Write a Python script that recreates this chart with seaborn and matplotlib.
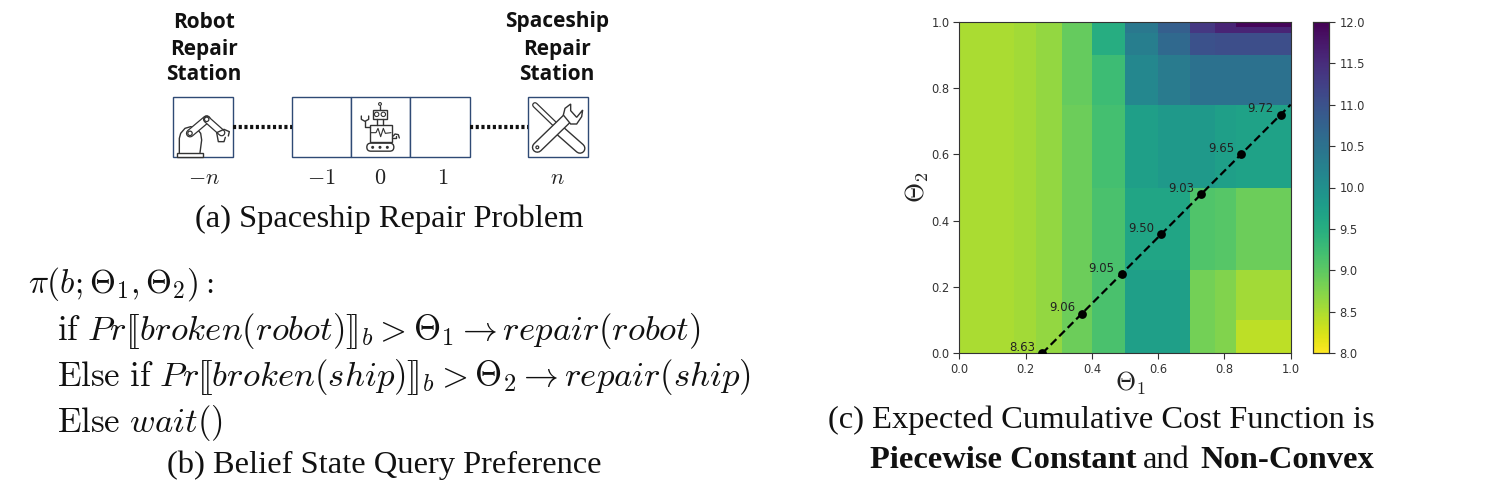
import numpy as np
import pandas as pd
import matplotlib
matplotlib.use("Agg")
import matplotlib.pyplot as plt
from matplotlib.patches import Rectangle, Circle, FancyBboxPatch, Polygon
import seaborn as sns

W, H = 1495, 492

# ---- data -------------------------------------------------------------
theta1_edges = [0, .165, .23, .31, .40, .50, .60, .695, .77, .835, 1.0]
theta2_edges = [0, .10, .25, .50, .75, .90, .965, .985, 1.0]
# rows go bottom to top, columns left to right
cost_r0 = [8.50, 8.55, 8.65, 8.90, 9.15, 9.75, 9.75, 8.85, 8.75, 8.40]
cost_r1 = [8.50, 8.55, 8.65, 8.90, 9.15, 9.75, 9.75, 8.85, 8.75, 8.55]
cost_r2 = [8.50, 8.55, 8.65, 8.90, 9.15, 9.65, 9.65, 9.10, 9.05, 8.90]
cost_r3 = [8.50, 8.55, 8.65, 8.90, 9.20, 9.75, 9.85, 9.85, 9.75, 9.70]
cost_r4 = [8.50, 8.55, 8.65, 8.95, 9.25, 10.15, 10.35, 10.50, 10.50, 10.50]
cost_r5 = [8.50, 8.55, 8.65, 8.95, 9.50, 10.30, 10.65, 11.00, 11.05, 11.05]
cost_r6 = [8.50, 8.55, 8.65, 8.95, 9.50, 10.40, 10.80, 11.35, 11.60, 11.60]
cost_r7 = [8.50, 8.55, 8.65, 8.95, 9.50, 10.40, 10.80, 11.35, 11.60, 11.95]

point_theta1 = [.25, .37, .49, .61, .73, .85, .97]
point_theta2 = [0, .12, .24, .36, .48, .60, .72]
point_labels = ["8.63", "9.06", "9.05", "9.50", "9.03", "9.65", "9.72"]
line_theta1 = [.25, 1.0]
line_theta2 = [0, .75]
ticks = [0.0, 0.2, 0.4, 0.6, 0.8, 1.0]
cbar_ticks = [8.0, 8.5, 9.0, 9.5, 10.0, 10.5, 11.0, 11.5, 12.0]
position_labels = [(204, r"$-n$"), (321, r"$-1$"), (380, r"$0$"), (443, r"$1$"), (557, r"$n$")]

# ---- setup ------------------------------------------------------------
sns.set_theme(style="white")
plt.rcParams["font.family"] = ["DejaVu Sans"]
plt.rcParams["mathtext.fontset"] = "cm"
fig = plt.figure(figsize=(W / 100, H / 100), dpi=100)
SERIF = "Liberation Serif"
INK = "#2f4a75"
CAP = 23.4


def rect(x0, y0, x1, y1):
    return [x0 / W, 1 - y1 / H, (x1 - x0) / W, (y1 - y0) / H]


# canvas in pixel units for the drawn diagram and text
cv = fig.add_axes([0, 0, 1, 1])
cv.set_xlim(0, W)
cv.set_ylim(H, 0)
cv.axis("off")

# ---- (a) diagram ------------------------------------------------------
for x0, x1 in [(173.3, 232.7), (292.3, 351), (351, 410.3), (410.3, 469.7), (528.3, 587.7)]:
    cv.add_patch(Rectangle((x0, 97.3), x1 - x0, 59.7, fc="white", ec=INK, lw=1.0))
for x0, x1 in [(233, 292), (470, 528)]:
    cv.plot([x0, x1], [126.7, 126.7], color="#111111", lw=3, ls=(0, (0.75, 0.62)), solid_capstyle="butt")

IC = "#333333"


def zx(X):
    return 150 + np.asarray(X) / 3


def zy(Y):
    return np.asarray(Y) / 3


def stroke(X, Y, lw=1.0, color=IC):
    cv.plot(zx(X), zy(Y), color=color, lw=lw, solid_capstyle="round", solid_joinstyle="round")


def hollow(X, Y, outer=4.6, inner=2.6):
    cv.plot(zx(X), zy(Y), color=IC, lw=outer, solid_capstyle="round")
    cv.plot(zx(X), zy(Y), color="white", lw=inner, solid_capstyle="round")


def ring(X, Y, r, lw=0.9):
    cv.add_patch(Circle((zx(X), zy(Y)), r, fc="white", ec=IC, lw=lw, zorder=4))


# robot arm
cv.add_patch(Rectangle((176.7, 152.7), 26, 4, fc="white", ec=IC, lw=1.0))
stroke([88, 88, 92, 105, 122, 140, 152, 155, 150], [458, 415, 400, 385, 380, 385, 400, 420, 458])
hollow([120, 170], [400, 358], 6.0, 4.2)
hollow([170, 215], [358, 398], 5.4, 3.6)
ring(120, 400, 2.2)
ring(170, 358, 2.2)
stroke([200, 222, 238, 235], [398, 388, 395, 408])
stroke([200, 205, 222, 226], [398, 425, 425, 412])

# robot
cv.add_patch(Rectangle((zx(668), zy(330)), 44 / 3, 28 / 3, fc="white", ec=IC, lw=1.0))
ring(680, 343, 2.2, 0.8)
ring(700, 343, 2.2, 0.8)
ring(690, 312, 1.4, 0.8)
stroke([690, 690], [318, 330])
stroke([680, 680], [358, 375])
stroke([700, 700], [358, 375])
cv.add_patch(Rectangle((zx(660), zy(375)), 65 / 3, 50 / 3, fc="white", ec=IC, lw=1.0))
stroke([662, 678, 684, 692, 700, 706, 723], [398, 398, 385, 410, 385, 400, 398], 0.8)
cv.add_patch(FancyBboxPatch((zx(655), zy(434)), 72 / 3, 15 / 3, boxstyle="round,pad=1.5,rounding_size=4", fc="white", ec=IC, lw=1.0))
for X in [668, 690, 712]:
    cv.add_patch(Circle((zx(X), zy(442)), 0.8, color=IC))
stroke([660, 645, 645], [382, 382, 362])
stroke([634, 634, 645, 656, 656], [348, 358, 364, 358, 348])
stroke([725, 738, 738], [415, 415, 408])
stroke([730, 735, 745, 748], [408, 402, 404, 414])

# tools
hollow([1222, 1290], [385, 445], 8.0, 6.0)
hollow([1155, 1212], [315, 370], 4.2, 2.4)
hollow([1162, 1255], [442, 352], 8.0, 6.0)
cv.add_patch(Polygon(np.c_[zx([1240, 1245, 1262, 1262, 1280, 1298, 1295, 1280, 1262]),
                           zy([345, 325, 312, 332, 352, 330, 350, 372, 372])], fc="white", ec=IC, lw=1.0, zorder=3))
ring(1162, 442, 1.4)

for cx, lines in [(204, ["Robot", "Repair", "Station"]), (557, ["Spaceship", "Repair", "Station"])]:
    for yy, s in zip([22, 49, 75], lines):
        cv.text(cx, yy, s, ha="center", va="center", fontsize=15, fontweight="bold", family="Open Sans", color="#111111")
for x, s in position_labels:
    cv.text(x, 178, s, ha="center", va="center", fontsize=16, color="#222222")

cv.text(389, 219, "(a) Spaceship Repair Problem", ha="center", va="center", fontsize=CAP, family=SERIF, color="#111111")

# ---- (b) formula ------------------------------------------------------
fs = 25
cv.text(28, 293, r"$\pi(b;\Theta_1,\Theta_2):$", fontsize=24, color="#111111")
cv.text(57, 340, r"$\mathrm{if}\ Pr[\![broken(robot)]\!]_b>\Theta_1\rightarrow repair(robot)$", fontsize=fs, color="#111111")
cv.text(57, 386, r"$\mathrm{Else\ if}\ Pr[\![broken(ship)]\!]_b>\Theta_2\rightarrow repair(ship)$", fontsize=fs, color="#111111")
cv.text(57, 432, r"$\mathrm{Else}\ wait()$", fontsize=fs, color="#111111")
cv.text(384, 465, "(b) Belief State Query Preference", ha="center", va="center", fontsize=CAP, family=SERIF, color="#111111")

# ---- (c) heatmap ------------------------------------------------------
N = 200
col_rep = np.round(np.diff(theta1_edges) * N).astype(int)
row_rep = np.round(np.diff(theta2_edges) * N).astype(int)
cost = np.array([cost_r0, cost_r1, cost_r2, cost_r3, cost_r4, cost_r5, cost_r6, cost_r7])
grid = np.repeat(np.repeat(cost, row_rep, axis=0), col_rep, axis=1)

ax = fig.add_axes(rect(959.4, 21.7, 1290.7, 353.3))
cax = fig.add_axes(rect(1312.7, 21.7, 1329.3, 353.3))
sns.heatmap(pd.DataFrame(grid), ax=ax, cbar_ax=cax, cmap="viridis_r", vmin=8, vmax=12,
            xticklabels=False, yticklabels=False, rasterized=True)
ax.invert_yaxis()
ax.set_xlabel("")
ax.set_ylabel("")

TC = "#333333"
cax.set_yticks(cbar_ticks)
cax.set_yticklabels([f"{t:.1f}" for t in cbar_ticks])
cax.tick_params(labelsize=8.3, colors=TC, length=4, width=0.8, right=True)
for s in cax.spines.values():
    s.set_visible(True)
    s.set_color(TC)
    s.set_linewidth(0.8)

top = fig.add_axes(rect(959.4, 21.7, 1290.7, 353.3), facecolor="none")
top.set_xlim(0, 1)
top.set_ylim(0, 1)
sns.lineplot(x=line_theta1, y=line_theta2, ax=top, color="black", lw=1.6, linestyle=(0, (3.6, 1.8)), errorbar=None)
sns.scatterplot(x=point_theta1, y=point_theta2, ax=top, color="black", s=40, linewidth=0, zorder=5)
for x, y, s in zip(point_theta1, point_theta2, point_labels):
    top.annotate(s, (x, y), xytext=(-14.5, 4), textcoords="offset points", ha="center", va="center",
                 fontsize=8.5, color="#222222", zorder=6)
top.set_xticks(ticks)
top.set_yticks(ticks)
top.set_xticklabels([f"{t:.1f}" for t in ticks])
top.set_yticklabels([f"{t:.1f}" for t in ticks])
top.tick_params(labelsize=8.3, colors=TC, length=4, width=0.8, bottom=True, left=True, pad=3)
for s in top.spines.values():
    s.set_visible(True)
    s.set_color(TC)
    s.set_linewidth(0.8)

cv.text(1130, 383, r"$\Theta_1$", ha="center", va="center", fontsize=18.5, color="#222222")
cv.text(917, 187, r"$\Theta_2$", ha="center", va="center", fontsize=18.5, rotation=90, color="#222222")

cv.text(1101.5, 420, "(c) Expected Cumulative Cost Function is", ha="center", va="center", fontsize=CAP, family=SERIF, color="#111111")
cv.text(870, 460, "Piecewise Constant", ha="left", va="center", fontsize=CAP, fontweight="bold", family=SERIF, color="#111111")
cv.text(1143, 460, "and", ha="left", va="center", fontsize=CAP, family=SERIF, color="#111111")
cv.text(1200, 460, "Non-Convex", ha="left", va="center", fontsize=CAP, fontweight="bold", family=SERIF, color="#111111")

fig.savefig("out.png", dpi=100, facecolor="white")
